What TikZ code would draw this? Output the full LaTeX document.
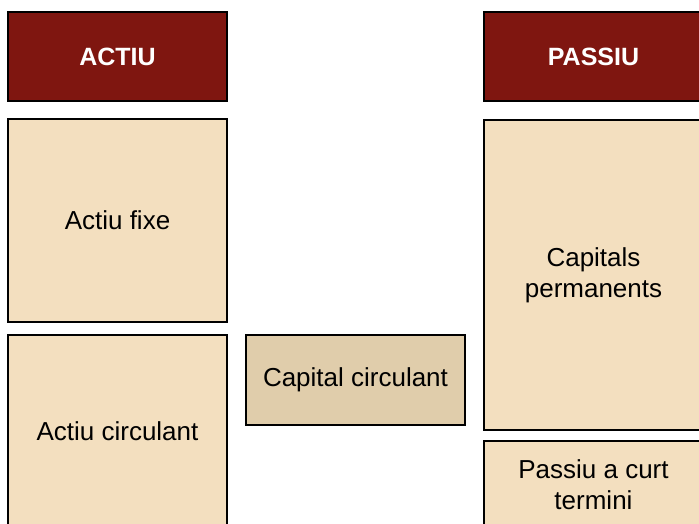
\documentclass[tikz,border=0pt]{standalone}
\usepackage{fontspec}
\setmainfont{Liberation Sans}
\usetikzlibrary{positioning}
\definecolor{balred}{RGB}{127,22,16}
\definecolor{baltan}{RGB}{243,223,191}
\definecolor{baldark}{RGB}{224,205,171}

\begin{document}
\begin{tikzpicture}[x=1pt,y=-1pt,
  head/.style={draw=black, line width=2pt, outer sep=0pt, fill=balred, text=white,
    font=\fontsize{25}{30}\selectfont\bfseries, minimum width=219pt, minimum height=89pt},
  block/.style={draw=black, line width=2pt, outer sep=0pt, fill=baltan, inner sep=0pt,
    font=\fontsize{26}{31}\selectfont, align=center, minimum width=219pt}]
% page frame
\fill[white] (0,0) rectangle (699,524);
\clip (0,0) rectangle (699,524);

% headers
\node[head] (actiu) at (117.5,56.5) {ACTIU};
\node[head] (passiu) at (593.5,56.5) {PASSIU};

% actiu side
\node[block, minimum height=203pt, below=18pt of actiu] (fixe) {Actiu fixe};
\node[block, minimum height=192pt, below=13pt of fixe] (circ) {Actiu circulant};
\node[block, fill=baldark, minimum height=90pt, below right=0pt and 19pt of circ.north east] (capcirc) {Capital circulant};

% passiu side
\node[block, minimum height=310pt, below=19pt of passiu] (perm) {Capitals\\permanents};
\node[block, minimum height=87pt, below=11pt of perm] (curt) {Passiu a curt\\termini};
\end{tikzpicture}
\end{document}
